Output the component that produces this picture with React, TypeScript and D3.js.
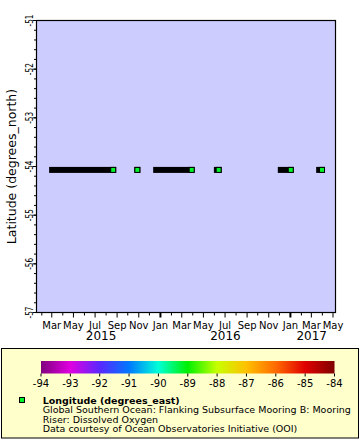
import React from "react";
import * as d3 from "d3";

// ---- data ----
const segStart = ["2015-03-02", "2015-10-28", "2015-12-20", "2016-06-08", "2016-12-05", "2017-03-23"];
const segEnd = ["2015-08-21", "2015-10-28", "2016-03-29", "2016-06-13", "2017-01-02", "2017-03-31"];
const latitude = -54.07;
const longitude = -89.2;
const latTicks = [-57, -56, -55, -54, -53, -52, -51];
const monthNames = ["Jan", "Feb", "Mar", "Apr", "May", "Jun", "Jul", "Aug", "Sep", "Oct", "Nov", "Dec"];
const years = [2015, 2016, 2017];
const cbTicks = [-94, -93, -92, -91, -90, -89, -88, -87, -86, -85, -84];
const cbColors = ["#7f007f", "#e000e0", "#5a28ff", "#0078ff", "#00ffd8", "#00f000", "#c8ff00", "#ffc000", "#ff6a00", "#e00000", "#800000"];
const legendTitle = "Longitude (degrees_east)";
const legendLines = [
  "Global Southern Ocean: Flanking Subsurface Mooring B: Mooring",
  "Riser: Dissolved Oxygen",
  "Data courtesy of Ocean Observatories Initiative (OOI)",
];
const yTitle = "Latitude (degrees_north)";

const FONT = "DejaVu Sans";

export default function App() {
  const L = 36.5, R = 335.5, T = 20.5, B = 312.5;
  const x = d3.scaleUtc().domain([new Date(Date.UTC(2015, 0, 17)), new Date(Date.UTC(2017, 4, 8))]).range([L, R]);
  const y = d3.scaleLinear().domain([-57, -51]).range([B, T]);
  const color = d3.scaleLinear<string>().domain(cbTicks).range(cbColors);
  const cbX = d3.scaleLinear().domain([-94, -84]).range([41, 334.5]);
  const parse = (s: string) => new Date(s + "T00:00:00Z");
  const fill = color(longitude);

  const months = d3.utcMonth.range(x.domain()[0], x.domain()[1]);
  const minorLat = d3.range(-57, -50.99, 0.2);
  const firstTick = months[0];
  const lastTick = months[months.length - 1];

  const cy = y(latitude);
  const gradId = "cbgrad";

  return (
    <svg width={360} height={440} style={{ position: "absolute", left: 0, top: 0, background: "#fff" }} fontFamily={FONT}>
      <defs>
        <linearGradient id={gradId} x1="0" x2="1" y1="0" y2="0">
          {cbTicks.map((t, i) => (
            <stop key={i} offset={(t + 94) / 10} stopColor={cbColors[i]} />
          ))}
        </linearGradient>
      </defs>
      <rect x={L} y={T} width={R - L} height={B - T} fill="#ccccff" />

      {/* data */}
      {segStart.map((s, i) => {
        const x0 = x(parse(s));
        const x1 = x(parse(segEnd[i]));
        return (
          <g key={i}>
            <rect x={x0 - 3} y={cy - 3} width={x1 - x0 + 6} height={6} fill="#000" />
            <rect x={x1 - 2.5} y={cy - 2.5} width={5} height={5} fill={fill} stroke="#000" strokeWidth={1} />
          </g>
        );
      })}

      <rect x={L} y={T} width={R - L} height={B - T} fill="none" stroke="#000" strokeWidth={1.2} />

      {/* y axis */}
      {minorLat.map((v, i) => (
        <line key={"m" + i} x1={L - 2.5} x2={L} y1={y(v)} y2={y(v)} stroke="#000" />
      ))}
      {latTicks.map((v) => (
        <g key={v}>
          <line x1={L - 4} x2={L} y1={y(v)} y2={y(v)} stroke="#000" />
          <text
            transform={`translate(33.3,${y(v)}) rotate(-90)`}
            textAnchor="middle"
            fontSize={10}
            textLength={12}
            lengthAdjust="spacingAndGlyphs"
          >
            {String(v)}
          </text>
        </g>
      ))}
      <text transform={`translate(16,${(T + B) / 2}) rotate(-90)`} textAnchor="middle" fontSize={12.5}>
        {yTitle}
      </text>

      {/* x axis */}
      {months.map((m, i) => {
        const mi = m.getUTCMonth();
        const labeled = mi % 2 === 0;
        const isJan = mi === 0;
        const px = x(m);
        return (
          <g key={i}>
            <line x1={px} x2={px} y1={B} y2={B + (labeled ? 5 : 3)} stroke="#000" strokeWidth={isJan ? 2 : 1} />
            {labeled && (
              <text x={px} y={328.5} textAnchor="middle" fontSize={10}>
                {monthNames[mi]}
              </text>
            )}
          </g>
        );
      })}
      {years.map((yr) => {
        const ys = new Date(Date.UTC(yr, 0, 1));
        const ye = new Date(Date.UTC(yr + 1, 0, 1));
        const a = x(ys < firstTick ? firstTick : ys);
        const b = x(ye > lastTick ? lastTick : ye);
        return (
          <text key={yr} x={(a + b) / 2} y={340} textAnchor="middle" fontSize={12}>
            {yr}
          </text>
        );
      })}

      {/* legend */}
      <rect x={1.5} y={348.5} width={357} height={89.5} fill="#ffffcc" stroke="#000" strokeWidth={1} />
      <rect x={41} y={361} width={293.5} height={12.5} fill={`url(#${gradId})`} />
      {cbTicks.map((t) => (
        <g key={t}>
          <line x1={cbX(t)} x2={cbX(t)} y1={373.5} y2={376.5} stroke="#000" />
          <text x={cbX(t)} y={386.7} textAnchor="middle" fontSize={10}>
            {String(t)}
          </text>
        </g>
      ))}
      <rect x={19.5} y={397.5} width={5} height={5} fill={fill} stroke="#000" strokeWidth={1} />
      <text x={42.7} y={403.5} fontSize={9.5} fontWeight="bold">
        {legendTitle}
      </text>
      {legendLines.map((l, i) => (
        <text key={i} x={42.7} y={413 + i * 9.5} fontSize={9.5}>
          {l}
        </text>
      ))}
    </svg>
  );
}
